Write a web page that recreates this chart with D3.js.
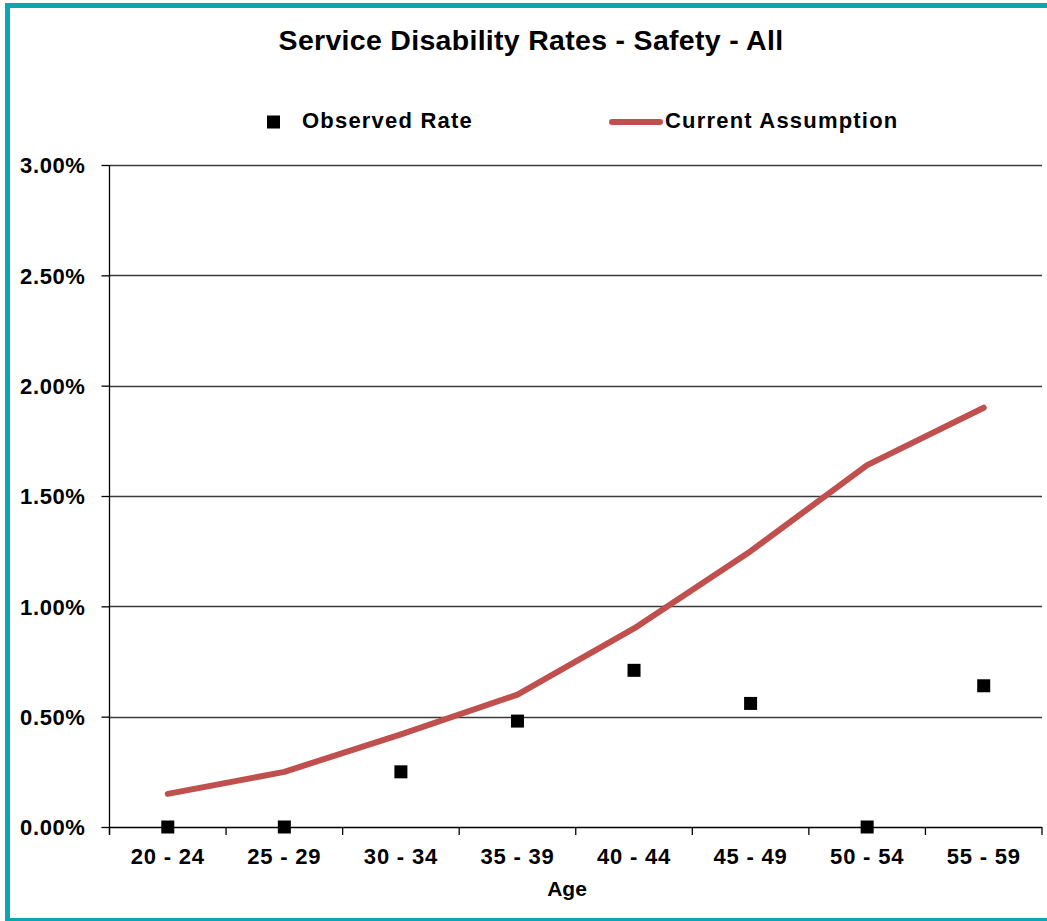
<!DOCTYPE html>
<html>
<head>
<meta charset="utf-8">
<script src="https://cdn.jsdelivr.net/npm/d3@7"></script>
<style>
  html, body { margin: 0; padding: 0; background: #fff; }
  svg { display: block; }
  text { font-family: "Liberation Sans", Arial, sans-serif; font-weight: bold; fill: #000; }
</style>
</head>
<body>
<svg id="chart" width="1047" height="921"></svg>
<script>
// Age bands along the x axis
const ageBands = ["20 - 24", "25 - 29", "30 - 34", "35 - 39", "40 - 44", "45 - 49", "50 - 54", "55 - 59"];
// Observed service disability rates (percent)
const observedRate = [0.00, 0.00, 0.25, 0.48, 0.71, 0.56, 0.00, 0.64];
// Current assumption rates (percent)
const currentAssumption = [0.15, 0.25, 0.42, 0.60, 0.90, 1.25, 1.64, 1.90];
// Y axis tick values (percent)
const yTicks = [0, 0.5, 1.0, 1.5, 2.0, 2.5, 3.0];

const svg = d3.select("#chart");

const plot = { left: 109.5, right: 1042, top: 165, bottom: 827 };

const x = d3.scaleBand().domain(ageBands).range([plot.left, plot.right]);
const y = d3.scaleLinear().domain([0, 3]).range([plot.bottom, plot.top]);

// Outer frame
svg.append("rect")
  .attr("x", 7.5).attr("y", 5.5)
  .attr("width", 1060).attr("height", 915)
  .attr("fill", "#fff")
  .attr("stroke", "#0aa6b5").attr("stroke-width", 5);

// Title
svg.append("text")
  .attr("x", 531).attr("y", 50)
  .attr("text-anchor", "middle")
  .style("font-size", "28.5px")
  .style("letter-spacing", "0.3px")
  .text("Service Disability Rates - Safety - All");

// Horizontal gridlines
svg.append("g").selectAll("line")
  .data(yTicks.filter(d => d > 0))
  .join("line")
  .attr("x1", plot.left).attr("x2", plot.right)
  .attr("y1", d => Math.round(y(d)) + 0.5).attr("y2", d => Math.round(y(d)) + 0.5)
  .attr("stroke", "#3a3a3a").attr("stroke-width", 1.3);

// Y axis
const yAxis = svg.append("g")
  .attr("transform", `translate(${plot.left},0)`)
  .call(d3.axisLeft(y).tickValues(yTicks).tickSize(8).tickPadding(16)
    .tickFormat(d => d3.format(".2f")(d) + "%"));
yAxis.select(".domain").attr("stroke", "#000").attr("stroke-width", 1.3)
  .attr("d", `M0,${plot.top}V${plot.bottom + 8}`);
yAxis.selectAll(".tick line").attr("stroke", "#000").attr("stroke-width", 1.3);
yAxis.selectAll(".tick text").style("font-size", "22px").attr("dy", "0.35em")
  .style("letter-spacing", "0.6px")
  .attr("font-family", null);

// X axis with ticks at band boundaries
const xAxisG = svg.append("g").attr("transform", `translate(0,${plot.bottom})`);
xAxisG.append("line")
  .attr("x1", plot.left).attr("x2", plot.right)
  .attr("y1", 0.5).attr("y2", 0.5)
  .attr("stroke", "#000").attr("stroke-width", 1.3);
const boundaries = ageBands.map(d => x(d)).concat([x.range()[1]]);
xAxisG.selectAll("line.tick")
  .data(boundaries)
  .join("line")
  .attr("class", "tick")
  .attr("x1", d => d).attr("x2", d => d)
  .attr("y1", 0).attr("y2", 8)
  .attr("stroke", "#000").attr("stroke-width", 1.3);
xAxisG.selectAll("text")
  .data(ageBands)
  .join("text")
  .attr("x", d => x(d) + x.bandwidth() / 2)
  .attr("y", 37)
  .attr("text-anchor", "middle")
  .style("font-size", "22px")
  .style("letter-spacing", "0.8px")
  .text(d => d);

// X axis title
svg.append("text")
  .attr("x", 567).attr("y", 896)
  .attr("text-anchor", "middle")
  .style("font-size", "21px")
  .text("Age");

const cx = d => x(d) + x.bandwidth() / 2;

// Current assumption line
const line = d3.line()
  .x((d, i) => cx(ageBands[i]))
  .y(d => y(d));
svg.append("path")
  .datum(currentAssumption)
  .attr("d", line)
  .attr("fill", "none")
  .attr("stroke", "#c0504d")
  .attr("stroke-width", 6)
  .attr("stroke-linejoin", "round")
  .attr("stroke-linecap", "round");

// Observed rate markers
const mk = 13;
svg.append("g").selectAll("rect")
  .data(observedRate)
  .join("rect")
  .attr("x", (d, i) => cx(ageBands[i]) - mk / 2)
  .attr("y", d => y(d) - mk / 2)
  .attr("width", mk).attr("height", mk)
  .attr("fill", "#000");

// Legend
const legend = svg.append("g");
legend.append("rect")
  .attr("x", 267).attr("y", 115.5).attr("width", 13).attr("height", 13)
  .attr("fill", "#000");
legend.append("text")
  .attr("x", 302).attr("y", 128)
  .style("font-size", "22px")
  .style("letter-spacing", "1.2px")
  .text("Observed Rate");
legend.append("line")
  .attr("x1", 612).attr("x2", 660)
  .attr("y1", 122).attr("y2", 122)
  .attr("stroke", "#c0504d").attr("stroke-width", 6)
  .attr("stroke-linecap", "round");
legend.append("text")
  .attr("x", 665).attr("y", 128)
  .style("font-size", "22px")
  .style("letter-spacing", "1.2px")
  .text("Current Assumption");
</script>
</body>
</html>
